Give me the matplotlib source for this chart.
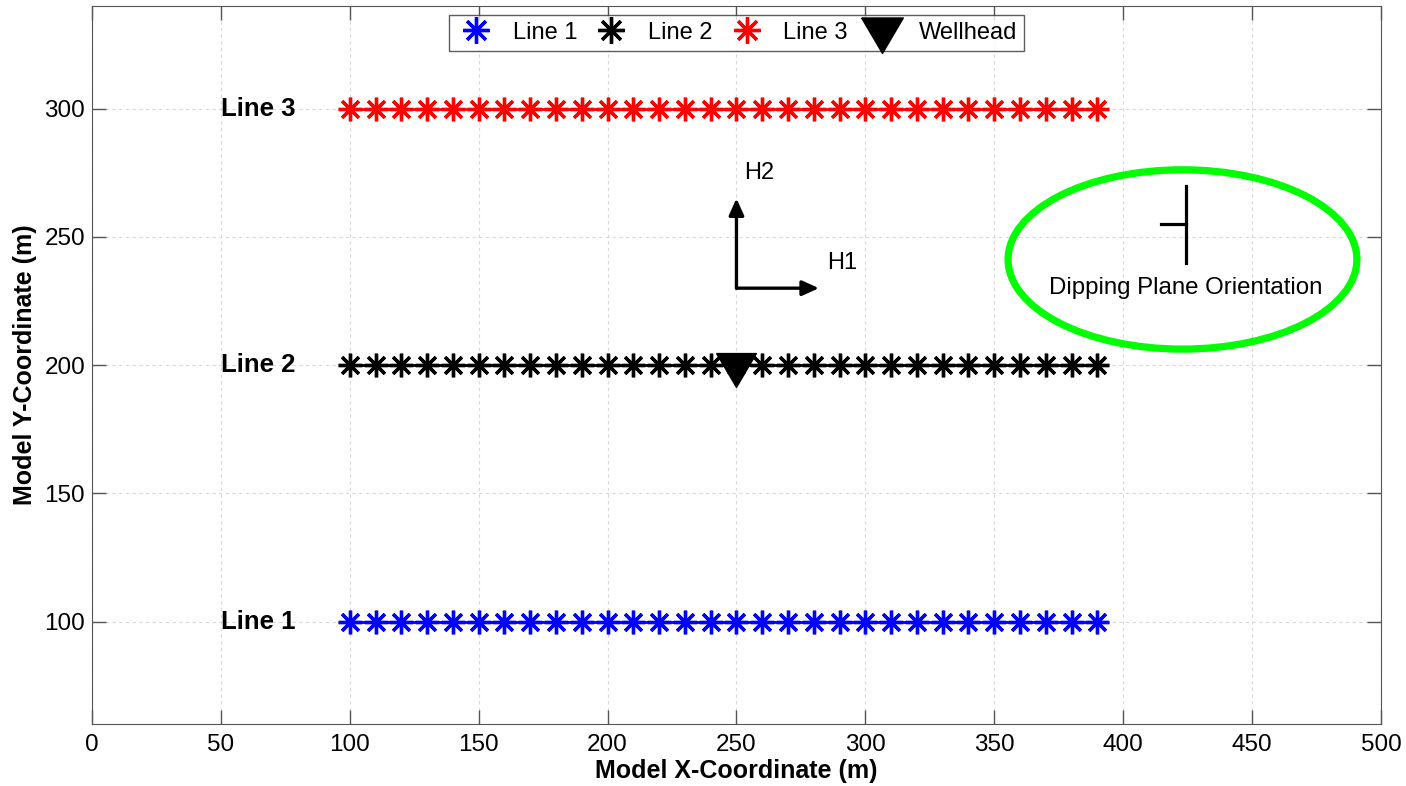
import matplotlib

matplotlib.use("Agg")
import matplotlib.pyplot as plt
from matplotlib.lines import Line2D
from matplotlib.patches import Ellipse

plt.rcParams["font.family"] = ["Liberation Sans", "DejaVu Sans"]

# ---- data ----
RX = list(range(100, 400, 10))          # receiver x positions (m)
LINE_Y = [100, 200, 300]                # y of line 1, 2, 3
LINE_NAMES = ["Line 1", "Line 2", "Line 3"]
LINE_COLORS = ["#0000ff", "#000000", "#ff0000"]
WELL_X, WELL_Y = 250, 200
ARROW_ORIGIN = (250, 230)
H1_TIP = (282, 230)
H2_TIP = (250, 265)
ELLIPSE_C = (423, 241.2)
ELLIPSE_W, ELLIPSE_H = 135.3, 69.9
STRIKE = ([424.3, 424.3], [240, 269.7])
DIP_TICK = ([414.6, 424.3], [254.9, 254.9])

ASTER = (8, 2, 0)
WELL_MARKER = [(-1, 0.6), (1, 0.6), (0, -1.1), (-1, 0.6)]

fig = plt.figure(figsize=(14.06, 7.86), dpi=100)
ax = fig.add_axes([0.0654, 0.0785, 0.9168, 0.9139])

for y, c in zip(LINE_Y, LINE_COLORS):
    ax.plot(RX, [y] * len(RX), color=c, lw=2, marker=ASTER, ms=17, mew=2.4,
            zorder=3)
ax.plot([WELL_X], [WELL_Y], ls="none", marker=WELL_MARKER, ms=31.5,
        color="black", zorder=4)

for name, y in zip(LINE_NAMES, LINE_Y):
    ax.text(50, y, name, fontsize=18.5, fontweight="bold", ha="left",
            va="center")

# axes arrows
for tip in (H1_TIP, H2_TIP):
    ax.annotate("", xy=tip, xytext=ARROW_ORIGIN,
                arrowprops=dict(arrowstyle="-|>,head_length=1.0,head_width=0.45",
                                lw=2.4, color="black", shrinkA=0, shrinkB=0))
ax.text(253, 275, "H2", fontsize=17, ha="left", va="center")
ax.text(285.3, 240, "H1", fontsize=17, ha="left", va="center")

# dipping plane orientation
ax.add_patch(Ellipse(ELLIPSE_C, ELLIPSE_W, ELLIPSE_H, fill=False,
                     edgecolor="#00ff00", lw=5.2, zorder=3))
ax.plot(*STRIKE, color="black", lw=2.3)
ax.plot(*DIP_TICK, color="black", lw=2.3)
ax.text(424.4, 230.1, "Dipping Plane Orientation", fontsize=17.3,
        ha="center", va="center")

ax.set_xlim(0, 500)
ax.set_ylim(60, 340)
ax.set_xticks(range(0, 501, 50))
ax.set_yticks(range(100, 301, 50))
ax.tick_params(direction="in", length=10, width=1, top=True, right=True,
               labelsize=17.5, colors="#555555", labelcolor="black", pad=7)
ax.tick_params(axis="y", pad=5)
for s in ax.spines.values():
    s.set_color("#555555")
ax.grid(True, ls=(0, (3, 3)), color="#d8d8d8", lw=0.8)
ax.set_axisbelow(True)
ax.set_xlabel("Model X-Coordinate (m)", fontsize=18, fontweight="bold",
              labelpad=2)
ax.set_ylabel("Model Y-Coordinate (m)", fontsize=18, fontweight="bold",
              labelpad=5)

handles = [Line2D([], [], ls="none", marker=ASTER, ms=19, mew=2.4, color=c)
           for c in LINE_COLORS]
handles.append(Line2D([], [], ls="none", marker=WELL_MARKER, ms=33,
                      color="black"))
leg = ax.legend(handles, LINE_NAMES + ["Wellhead"], loc="upper center",
                ncol=4, fontsize=17, frameon=True, fancybox=False,
                edgecolor="#333333", borderpad=0.3, handlelength=1.7,
                handletextpad=0.7, columnspacing=0.6,
                bbox_to_anchor=(0.5, 0.988), borderaxespad=0)
leg.get_frame().set_linewidth(1)

fig.savefig("out.png", dpi=100)
